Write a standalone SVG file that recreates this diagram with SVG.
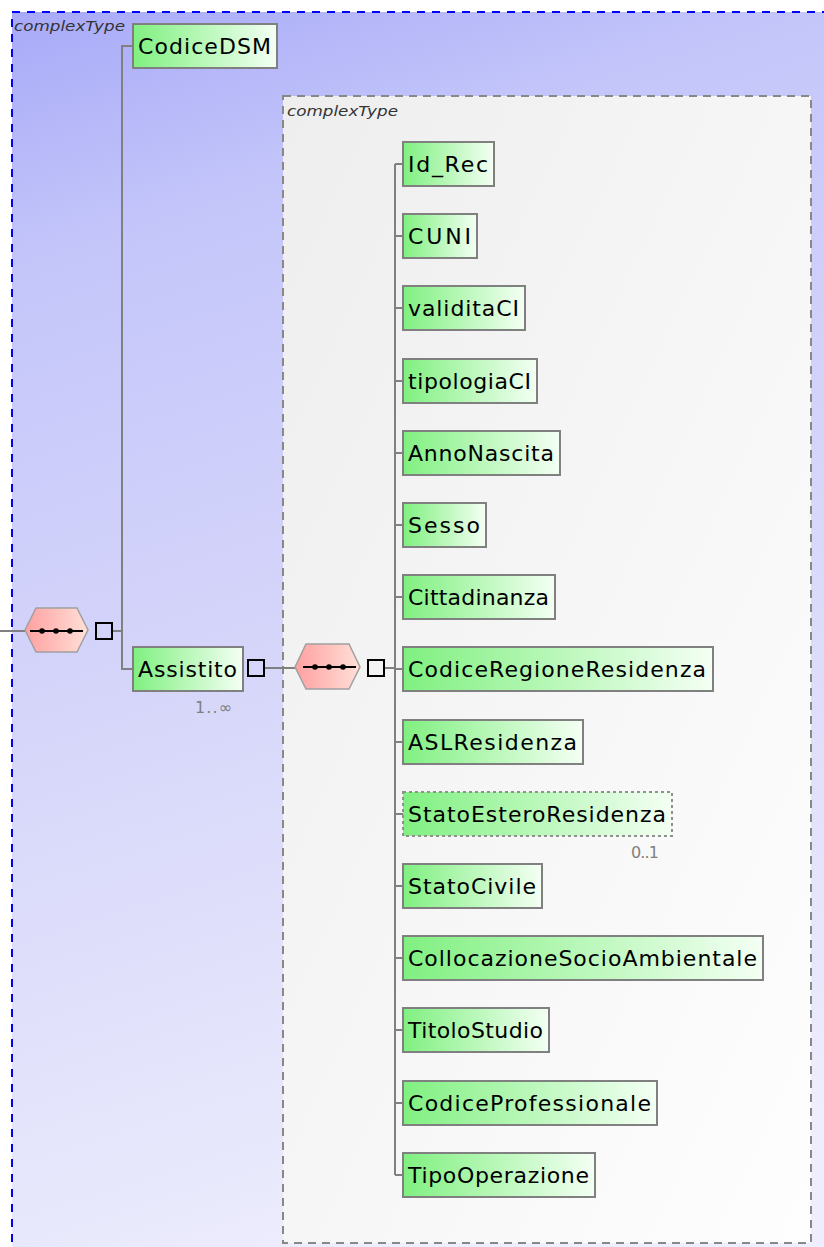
<svg xmlns="http://www.w3.org/2000/svg" width="824" height="1247" viewBox="0 0 824 1247">
<style>
.el{stroke:#808080;stroke-width:2;fill:url(#gGreen)}
.opt{stroke:#909090;stroke-width:2;stroke-dasharray:3,3;fill:url(#gGreen)}
.lbl{font-family:"DejaVu Sans","Liberation Sans",sans-serif;font-size:22px;fill:#000}
.ct{font-family:"DejaVu Sans","Liberation Sans",sans-serif;font-size:14px;font-style:italic;fill:#333}
.occ{font-family:"DejaVu Sans","Liberation Sans",sans-serif;font-size:16px;fill:#808080}
.con{stroke:#808080;stroke-width:2;fill:none}
.sq{stroke:#000;stroke-width:2;fill:none}
.hex{stroke:#a0a0a0;stroke-width:1.5;fill:url(#gPink)}
</style>
<defs>
<linearGradient id="gGreen" x1="0" y1="0" x2="1" y2="0">
<stop offset="0" stop-color="#80f080"/>
<stop offset="1" stop-color="#f4fff4"/>
</linearGradient>
<linearGradient id="gPink" x1="0" y1="0" x2="1" y2="0">
<stop offset="0" stop-color="#ffa0a0"/>
<stop offset="1" stop-color="#ffe0d8"/>
</linearGradient>
<linearGradient id="gBlue" gradientUnits="userSpaceOnUse" x1="0" y1="0" x2="400" y2="1250">
<stop offset="0" stop-color="#a6a8f8"/>
<stop offset="0.2" stop-color="#c4c6fa"/>
<stop offset="0.5" stop-color="#d4d4fa"/>
<stop offset="0.9" stop-color="#e8e8fc"/>
<stop offset="1" stop-color="#eeeefe"/>
</linearGradient>
<linearGradient id="gGray" x1="0" y1="0" x2="1" y2="1">
<stop offset="0" stop-color="#eeeeee"/>
<stop offset="1" stop-color="#fefefe"/>
</linearGradient>
<g id="seq">
<line x1="5" y1="0" x2="58" y2="0" stroke="#000" stroke-width="2"/>
<circle cx="17" cy="0" r="2.8" fill="#000"/>
<circle cx="31" cy="0" r="2.8" fill="#000"/>
<circle cx="45" cy="0" r="2.8" fill="#000"/>
</g>
</defs>

<rect width="824" height="1247" fill="#ffffff"/>
<g id="outerType">
<rect x="12" y="12" width="840" height="1260" fill="url(#gBlue)" stroke="#0000ff" stroke-width="2" stroke-dasharray="8,7"/>
<text class="ct" x="14" y="31" textLength="111" lengthAdjust="spacingAndGlyphs">complexType</text>
</g>
<g id="innerType">
<rect x="283" y="96" width="528" height="1147" fill="url(#gGray)" stroke="#888888" stroke-width="2" stroke-dasharray="8,6"/>
<text class="ct" x="287" y="116" textLength="111" lengthAdjust="spacingAndGlyphs">complexType</text>
</g>

<g id="connectors">
<line class="con" x1="0" y1="631" x2="25" y2="631"/>
<line class="con" x1="113" y1="631" x2="122" y2="631"/>
<polyline class="con" points="133,46 122,46 122,669 133,669"/>
<line class="con" x1="265" y1="668" x2="295" y2="668"/>
<line class="con" x1="385" y1="668" x2="395" y2="668"/>
<line class="con" x1="395" y1="164" x2="395" y2="1175"/>
<line class="con" x1="395" y1="164" x2="403" y2="164"/>
<line class="con" x1="395" y1="236" x2="403" y2="236"/>
<line class="con" x1="395" y1="308" x2="403" y2="308"/>
<line class="con" x1="395" y1="381" x2="403" y2="381"/>
<line class="con" x1="395" y1="453" x2="403" y2="453"/>
<line class="con" x1="395" y1="525" x2="403" y2="525"/>
<line class="con" x1="395" y1="597" x2="403" y2="597"/>
<line class="con" x1="395" y1="669" x2="403" y2="669"/>
<line class="con" x1="395" y1="742" x2="403" y2="742"/>
<line class="con" x1="395" y1="814" x2="403" y2="814"/>
<line class="con" x1="395" y1="886" x2="403" y2="886"/>
<line class="con" x1="395" y1="958" x2="403" y2="958"/>
<line class="con" x1="395" y1="1030" x2="403" y2="1030"/>
<line class="con" x1="395" y1="1103" x2="403" y2="1103"/>
<line class="con" x1="395" y1="1175" x2="403" y2="1175"/>
</g>

<g id="seq1">
<polygon class="hex" points="25,630 36,608 77,608 88,630 77,652 36,652"/>
<use href="#seq" x="25" y="631"/>
<rect class="sq" x="96" y="623" width="16" height="16"/>
</g>

<g id="CodiceDSM">
<rect class="el" x="133" y="24" width="144" height="44"/>
<text class="lbl" x="138" y="54" textLength="133" lengthAdjust="spacing">CodiceDSM</text>
</g>

<g id="Assistito">
<rect class="el" x="133" y="647" width="110" height="44"/>
<text class="lbl" x="138" y="677" textLength="99" lengthAdjust="spacing">Assistito</text>
<rect class="sq" x="248" y="660" width="16" height="16"/>
<text class="occ" x="195" y="713" textLength="37" lengthAdjust="spacing">1..∞</text>
</g>

<g id="seq2">
<polygon class="hex" points="295,667 306,644 349,644 360,667 349,689 306,689"/>
<use href="#seq" x="298" y="667"/>
<rect class="sq" x="368" y="660" width="16" height="16"/>
</g>

<g id="Id_Rec"><rect class="el" x="403" y="142" width="91" height="44"/><text class="lbl" x="408" y="172" textLength="80" lengthAdjust="spacing">Id_Rec</text></g>
<g id="CUNI"><rect class="el" x="403" y="214" width="74" height="44"/><text class="lbl" x="408" y="244" textLength="63" lengthAdjust="spacing">CUNI</text></g>
<g id="validitaCI"><rect class="el" x="403" y="286" width="122" height="44"/><text class="lbl" x="408" y="316" textLength="111" lengthAdjust="spacing">validitaCI</text></g>
<g id="tipologiaCI"><rect class="el" x="403" y="359" width="134" height="44"/><text class="lbl" x="408" y="389" textLength="123" lengthAdjust="spacing">tipologiaCI</text></g>
<g id="AnnoNascita"><rect class="el" x="403" y="431" width="157" height="44"/><text class="lbl" x="408" y="461" textLength="146" lengthAdjust="spacing">AnnoNascita</text></g>
<g id="Sesso"><rect class="el" x="403" y="503" width="83" height="44"/><text class="lbl" x="408" y="533" textLength="72" lengthAdjust="spacing">Sesso</text></g>
<g id="Cittadinanza"><rect class="el" x="403" y="575" width="152" height="44"/><text class="lbl" x="408" y="605" textLength="141" lengthAdjust="spacing">Cittadinanza</text></g>
<g id="CodiceRegioneResidenza"><rect class="el" x="403" y="647" width="310" height="44"/><text class="lbl" x="408" y="677" textLength="298" lengthAdjust="spacing">CodiceRegioneResidenza</text></g>
<g id="ASLResidenza"><rect class="el" x="403" y="720" width="180" height="44"/><text class="lbl" x="408" y="750" textLength="169" lengthAdjust="spacing">ASLResidenza</text></g>
<g id="StatoEsteroResidenza"><rect class="opt" x="403" y="792" width="269" height="44"/><text class="lbl" x="408" y="822" textLength="258" lengthAdjust="spacing">StatoEsteroResidenza</text><text class="occ" x="631" y="858" textLength="28" lengthAdjust="spacing">0..1</text></g>
<g id="StatoCivile"><rect class="el" x="403" y="864" width="139" height="44"/><text class="lbl" x="408" y="894" textLength="128" lengthAdjust="spacing">StatoCivile</text></g>
<g id="CollocazioneSocioAmbientale"><rect class="el" x="403" y="936" width="360" height="44"/><text class="lbl" x="408" y="966" textLength="349" lengthAdjust="spacing">CollocazioneSocioAmbientale</text></g>
<g id="TitoloStudio"><rect class="el" x="403" y="1008" width="146" height="44"/><text class="lbl" x="408" y="1038" textLength="135" lengthAdjust="spacing">TitoloStudio</text></g>
<g id="CodiceProfessionale"><rect class="el" x="403" y="1081" width="254" height="44"/><text class="lbl" x="408" y="1111" textLength="243" lengthAdjust="spacing">CodiceProfessionale</text></g>
<g id="TipoOperazione"><rect class="el" x="403" y="1153" width="192" height="44"/><text class="lbl" x="408" y="1183" textLength="181" lengthAdjust="spacing">TipoOperazione</text></g>
</svg>
